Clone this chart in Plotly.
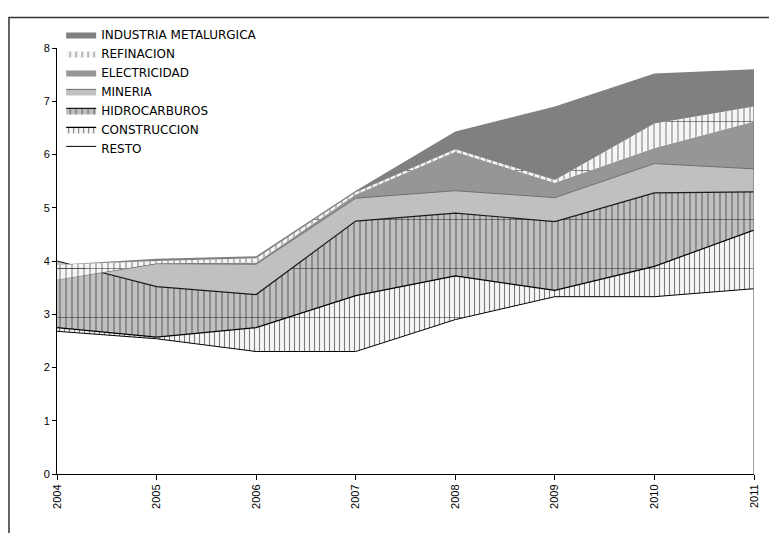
import numpy as np
import plotly.graph_objects as go

anios = [2004, 2005, 2006, 2007, 2008, 2009, 2010, 2011]

# valores por sector (apilados de abajo hacia arriba)
resto = [2.68, 2.54, 2.30, 2.30, 2.90, 3.33, 3.33, 3.48]
construccion = [0.07, 0.03, 0.45, 1.05, 0.82, 0.12, 0.57, 1.10]
hidrocarburos = [1.25, 0.95, 0.62, 1.40, 1.18, 1.29, 1.38, 0.72]
mineria = [-0.35, 0.43, 0.57, 0.43, 0.42, 0.45, 0.55, 0.43]
electricidad = [0.00, 0.01, 0.03, 0.07, 0.73, 0.28, 0.29, 0.89]
refinacion = [0.28, 0.04, 0.08, 0.04, 0.05, 0.05, 0.46, 0.28]
industria = [0.00, 0.04, 0.04, 0.03, 0.33, 1.38, 0.94, 0.70]

ticks_y = [0, 1, 2, 3, 4, 5, 6, 7, 8]

series = [
    ('RESTO', resto, 'white', None, dict(color='black', width=1)),
    ('CONSTRUCCION', construccion, '#F6F6F6',
     dict(shape='|', size=5, solidity=0.22, fgcolor='black', bgcolor='#F6F6F6'),
     dict(color='black', width=1.2)),
    ('HIDROCARBUROS', hidrocarburos, '#C0C0C0',
     dict(shape='|', size=6, solidity=0.2, fgcolor='#111111', bgcolor='#C0C0C0'),
     dict(color='#1A1A1A', width=1.2)),
    ('MINERIA', mineria, '#C0C0C0', None, dict(color='#6E6E6E', width=1)),
    ('ELECTRICIDAD', electricidad, '#969696', None, dict(width=0)),
    ('REFINACION', refinacion, '#F6F6F6',
     dict(shape='|', size=6, solidity=0.2, fgcolor='#222222', bgcolor='#F6F6F6'),
     dict(width=0)),
    ('INDUSTRIA METALURGICA', industria, '#808080', None, dict(width=0)),
]

acumulado = np.cumsum(np.array([s[1] for s in series]), axis=0)

fig = go.Figure()

for i, (nombre, valores, color, patron, linea) in enumerate(series):
    fig.add_trace(go.Scatter(
        x=anios,
        y=acumulado[i],
        mode='lines',
        name=nombre,
        fill='tozeroy' if i == 0 else 'tonexty',
        fillcolor=color,
        fillpattern=patron,
        line=linea,
        hoverinfo='skip'
    ))

# lineas horizontales anchas de las tramas rayadas
for i, (nombre, valores, color, patron, linea) in enumerate(series):
    if patron is None:
        continue
    fig.add_trace(go.Scatter(
        x=anios, y=acumulado[i - 1], mode='lines', line=dict(width=0),
        showlegend=False, hoverinfo='skip'
    ))
    fig.add_trace(go.Scatter(
        x=anios, y=acumulado[i], mode='lines', line=dict(width=0),
        fill='tonexty', fillcolor='rgba(0,0,0,0)',
        fillpattern=dict(shape='-', size=49, solidity=0.025, fgcolor='#222222',
                         bgcolor='rgba(0,0,0,0)'),
        showlegend=False, hoverinfo='skip'
    ))

# borde derecho gris del area
fig.add_shape(type='line', x0=anios[-1], x1=anios[-1], y0=0, y1=acumulado[-1][-1],
              xref='x', yref='y', line=dict(color='#808080', width=1.5))

# marco exterior del grafico
fig.add_shape(type='rect', xref='paper', yref='paper',
              x0=-0.0689, x1=1.2, y0=-0.3, y1=1.0714,
              line=dict(color='#333333', width=1.5), fillcolor='rgba(0,0,0,0)', layer='above')

fig.update_layout(
    width=777,
    height=533,
    margin=dict(l=49, r=31, t=32, b=67),
    paper_bgcolor='white',
    plot_bgcolor='white',
    font=dict(family='Liberation Sans, Arial', size=11, color='black'),
    showlegend=True,
    legend=dict(
        x=0.006, y=1.066, xanchor='left', yanchor='top',
        traceorder='reversed',
        font=dict(family='DejaVu Sans', size=12, color='black'),
        bgcolor='rgba(0,0,0,0)',
        borderwidth=0
    ),
    xaxis=dict(
        range=[anios[0], anios[-1]],
        tickvals=anios,
        ticktext=[str(a) for a in anios],
        tickangle=-90,
        showline=True, linecolor='black', linewidth=1,
        ticks='outside', ticklen=5, tickcolor='black',
        showgrid=False, zeroline=False,
        tickfont=dict(size=11)
    ),
    yaxis=dict(
        range=[0, 8],
        tickvals=ticks_y,
        showline=True, linecolor='black', linewidth=1,
        ticks='outside', ticklen=4, tickcolor='black',
        showgrid=False, zeroline=False,
        tickfont=dict(size=11)
    )
)

fig.write_html("out.html")
